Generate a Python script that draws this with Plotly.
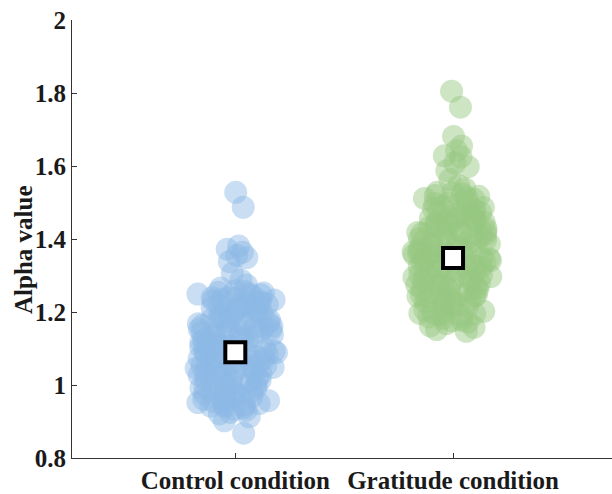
import plotly.graph_objects as go

# Alpha values per participant, one list per condition
categories = ["Control condition", "Gratitude condition"]

control_alpha = [
    1.062, 0.931, 1.143, 1.205, 0.987, 1.118, 1.247, 1.012, 1.176, 1.046, 1.089,
    0.954, 1.097, 1.221, 1.031, 1.158, 0.968, 1.134, 1.251, 1.073, 0.996, 1.186,
    1.104, 1.019, 1.239, 0.945, 1.166, 1.057, 1.212, 0.976, 1.127, 1.081, 1.149,
    1.231, 1.003, 1.068, 0.938, 1.192, 1.113, 1.024, 1.171, 1.086, 0.961, 1.237,
    0.992, 1.141, 1.052, 1.198, 0.983, 1.257, 1.035, 1.101, 1.226, 1.064, 0.949,
    1.153, 1.044, 1.218, 0.971, 1.091, 1.208, 1.016, 1.163, 0.942, 1.243, 1.109,
    1.055, 1.196, 0.957, 1.137, 1.027, 1.233, 1.083, 0.999, 1.179, 1.123, 1.048,
    1.155, 0.966, 1.093, 1.213, 1.041, 1.189, 0.934, 1.131, 1.005, 1.249, 1.075,
    1.022, 1.182, 0.979, 1.228, 1.066, 1.146, 1.254, 1.009, 1.098, 0.952, 1.174,
    1.203, 1.029, 1.138, 0.985, 1.161, 1.053, 1.224, 0.947, 1.115, 1.079, 1.241,
    1.121, 0.994, 1.185, 1.037, 1.258, 1.069, 0.963, 1.152, 1.013, 1.216, 1.088,
    1.034, 1.168, 0.958, 1.195, 1.106, 1.002, 1.234, 1.072, 1.145, 0.973, 1.211,
    1.178, 1.051, 1.252, 1.117, 0.941, 1.096, 1.229, 1.039, 1.157, 0.981, 1.132,
    1.528, 1.487, 1.381, 1.372, 1.364, 1.355, 1.349, 1.338, 1.306, 1.288, 1.274,
    1.266, 0.925, 0.921, 0.913, 0.902, 0.868,
]

gratitude_alpha = [
    1.352, 1.274, 1.418, 1.196, 1.331, 1.462, 1.243, 1.389, 1.307, 1.511, 1.228, 1.483,
    1.287, 1.441, 1.172, 1.323, 1.476, 1.259, 1.397, 1.346, 1.215, 1.429, 1.519, 1.368,
    1.183, 1.452, 1.316, 1.249, 1.405, 1.337, 1.491, 1.281, 1.362, 1.221, 1.434, 1.528,
    1.302, 1.386, 1.238, 1.467, 1.341, 1.193, 1.413, 1.279, 1.524, 1.357, 1.255, 1.446,
    1.206, 1.371, 1.291, 1.498, 1.234, 1.393, 1.312, 1.427, 1.348, 1.268, 1.458, 1.178,
    1.382, 1.295, 1.437, 1.246, 1.364, 1.505, 1.333, 1.409, 1.271, 1.211, 1.448, 1.319,
    1.285, 1.397, 1.189, 1.472, 1.329, 1.258, 1.421, 1.343, 1.486, 1.305, 1.377, 1.241,
    1.359, 1.225, 1.415, 1.297, 1.453, 1.318, 1.442, 1.202, 1.383, 1.276, 1.497, 1.233,
    1.361, 1.425, 1.187, 1.339, 1.468, 1.252, 1.401, 1.299, 1.515, 1.216, 1.374, 1.263,
    1.443, 1.328, 1.479, 1.176, 1.394, 1.311, 1.456, 1.244, 1.367, 1.432, 1.203, 1.509,
    1.349, 1.489, 1.263, 1.416, 1.288, 1.527, 1.229, 1.381, 1.451, 1.195, 1.325, 1.474,
    1.272, 1.408, 1.301, 1.247, 1.365, 1.437, 1.198, 1.354, 1.478, 1.289, 1.392, 1.517,
    1.805, 1.761, 1.681, 1.655, 1.642, 1.628, 1.625, 1.608, 1.598, 1.587, 1.563, 1.546,
    1.538, 1.162, 1.158, 1.152, 1.147, 1.168,
]

group_means = [1.09, 1.348]

y_ticks = [0.8, 1.0, 1.2, 1.4, 1.6, 1.8, 2.0]
y_tick_labels = ["0.8", "1", "1.2", "1.4", "1.6", "1.8", "2"]

colors = ["rgb(140,184,230)", "rgb(150,200,130)"]
font_family = "Liberation Serif"
text_color = "#1a1a1a"

fig = go.Figure()

# Jittered individual points (box body hidden, only its sample points shown)
for cat, vals, col in zip(categories, [control_alpha, gratitude_alpha], colors):
    fig.add_trace(go.Box(
        x=[cat] * len(vals),
        y=vals,
        boxpoints="all",
        jitter=1,
        pointpos=0,
        width=0.38,
        fillcolor="rgba(0,0,0,0)",
        line=dict(width=0, color="rgba(0,0,0,0)"),
        marker=dict(size=23, color=col, opacity=0.47, line=dict(width=0)),
        hoverinfo="y",
        showlegend=False,
    ))

# Condition means
fig.add_trace(go.Scatter(
    x=categories,
    y=group_means,
    mode="markers",
    marker=dict(symbol="square", size=20, color="white",
                line=dict(color="black", width=4)),
    showlegend=False,
))

fig.update_layout(
    width=612,
    height=494,
    margin=dict(l=72, r=0, t=20, b=32),
    plot_bgcolor="white",
    paper_bgcolor="white",
    font=dict(family=font_family, color=text_color),
    annotations=[dict(
        text="Alpha value",
        textangle=-90,
        xref="paper", yref="paper",
        x=-0.091, y=0.477,
        xanchor="center", yanchor="middle",
        showarrow=False,
        font=dict(family=font_family, size=25, weight="bold", color=text_color),
    )],
)

fig.update_xaxes(
    type="category",
    categoryorder="array",
    categoryarray=categories,
    range=[-0.75, 1.73],
    showline=True,
    linecolor="#333",
    linewidth=1,
    ticks="inside",
    ticklen=5,
    tickcolor="#333",
    showgrid=False,
    zeroline=False,
    tickfont=dict(family=font_family, size=25, weight="bold", color=text_color),
)

fig.update_yaxes(
    range=[0.8, 2.0],
    tickvals=y_ticks,
    ticktext=y_tick_labels,
    showline=True,
    linecolor="#333",
    linewidth=1,
    ticks="inside",
    ticklen=5,
    tickcolor="#333",
    showgrid=False,
    zeroline=False,
    tickfont=dict(family=font_family, size=25, weight="bold", color=text_color),
)

fig.write_html("out.html")
